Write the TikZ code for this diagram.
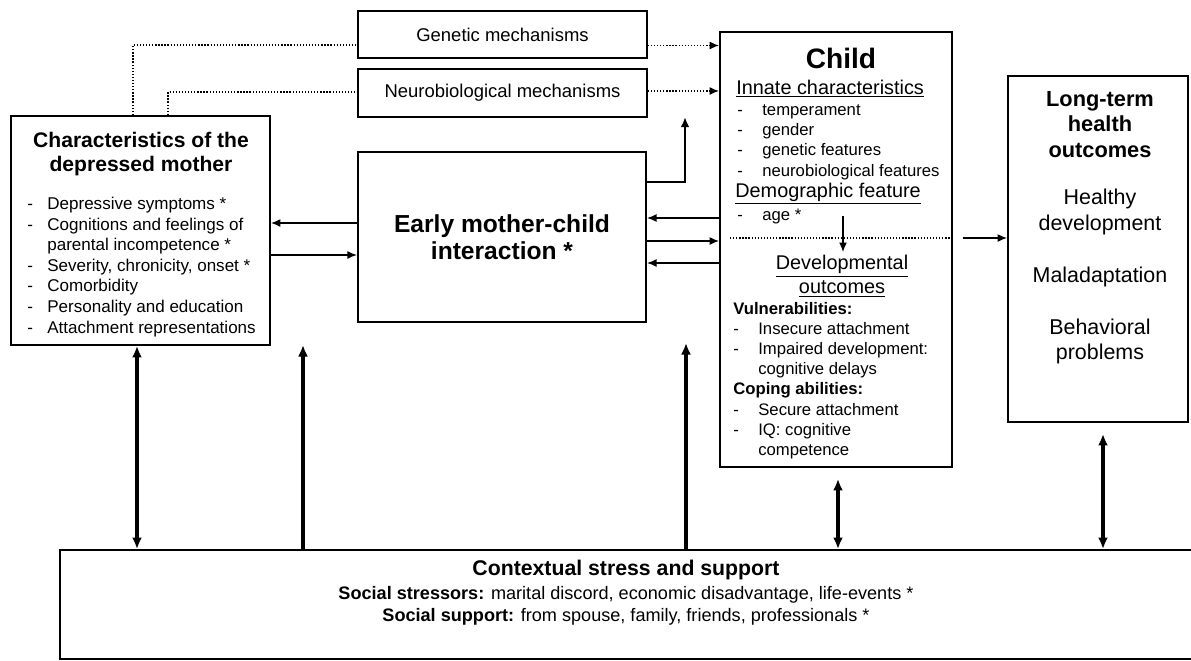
\documentclass[tikz,border=0pt]{standalone}
\usepackage{fontspec}
\setmainfont{Liberation Sans}
\usetikzlibrary{positioning}
\usetikzlibrary{arrows.meta}
\usetikzlibrary{calc}
\newcommand{\dashi}[1]{\makebox[#1][l]{-}}
\tikzset{
    boxn/.style = {rectangle, draw=black, line width=1.1pt, inner sep=0pt},
    mechn/.style = {boxn, line width=0.9pt, minimum width=5.78cm, minimum height=0.94cm, font=\fontsize{10.5}{12}\selectfont},
    txtn/.style = {inner sep=0pt, align=left},
    edgen/.style = {-{Latex[length=1.9mm,width=1.6mm]}, line width=0.75pt, black},
    edged/.style = {edgen, densely dotted}, % mechanisms
    edgedot/.style = {-, line width=0.75pt, densely dotted},
    edgeu/.style = {-{Latex[length=2mm,width=1.7mm]}, line width=1.2pt},
    edgeb/.style = {-{Latex[length=2.3mm,width=2mm]}, line width=2pt},
    edgebb/.style = {{Latex[length=2.3mm,width=2mm]}-{Latex[length=2.3mm,width=2mm]}, line width=2pt}
}

\begin{document}
\begin{tikzpicture}[x=0.02cm, y=-0.02cm]
  \useasboundingbox (0,0) rectangle (1191,660);

  \node[mechn] (gen) at (502.5,34.5) {Genetic mechanisms};
  \node[mechn, minimum height=0.96cm] (neuro) at (502.5,93) {Neurobiological mechanisms};
  \node[boxn, minimum width=5.18cm, minimum height=4.58cm] (mother) at (140.5,230.5) {};
  \node[boxn, line width=1.3pt, minimum width=5.76cm, minimum height=3.4cm, align=center,
        font=\bfseries\fontsize{14}{15.5}\selectfont] (early) at (502,237) {Early mother-child\\interaction *};
  \node[boxn, minimum width=4.64cm, minimum height=8.7cm] (child) at (836,249.5) {};
  \node[boxn, minimum width=3.6cm, minimum height=6.92cm] (long) at (1098,249) {};
  \node[boxn, minimum width=22.68cm, minimum height=2.18cm] (context) at (627,604.5) {};

  % mother
  \node[txtn, align=center, anchor=north, font=\bfseries\fontsize{12}{13.3}\selectfont] (mtitle) at (141,132)
    {Characteristics of the\\depressed mother};
  \node[txtn, anchor=north west, font=\fontsize{9.7}{11.7}\selectfont] (mlist) at (27,197)
    {\dashi{0.4cm}Depressive symptoms *\\
     \dashi{0.4cm}Cognitions and feelings of\\
     \hspace*{0.4cm}parental incompetence *\\
     \dashi{0.4cm}Severity, chronicity, onset *\\
     \dashi{0.4cm}Comorbidity\\
     \dashi{0.4cm}Personality and education\\
     \dashi{0.4cm}Attachment representations};

  % child
  \node[txtn, anchor=base, font=\bfseries\fontsize{16}{18}\selectfont] (ctitle) at (841,68) {Child};
  \node[txtn, anchor=base west, font=\fontsize{11.3}{13}\selectfont] (innate) at (736,94) {\underline{Innate characteristics}};
  \node[txtn, anchor=north west, font=\fontsize{9.5}{11.6}\selectfont] (ilist) at (737,104)
    {\dashi{0.5cm}temperament\\
     \dashi{0.5cm}gender\\
     \dashi{0.5cm}genetic features\\
     \dashi{0.5cm}neurobiological features};
  \node[txtn, anchor=base west, font=\fontsize{11.3}{13}\selectfont] (demo) at (735,197) {\underline{Demographic feature}};
  \node[txtn, anchor=base west, font=\fontsize{9.5}{11.6}\selectfont] (age) at (737,220) {\dashi{0.5cm}age *};
  \node[txtn, align=center, anchor=north, font=\fontsize{11.3}{13.7}\selectfont] (devel) at (842,255)
    {\underline{Developmental}\\\underline{outcomes}};
  \node[txtn, anchor=north west, font=\fontsize{9.5}{11.45}\selectfont] (vlist) at (733,302)
    {\textbf{Vulnerabilities:}\\
     \dashi{0.5cm}Insecure attachment\\
     \dashi{0.5cm}Impaired development:\\
     \hspace*{0.5cm}cognitive delays\\
     \textbf{Coping abilities:}\\
     \dashi{0.5cm}Secure attachment\\
     \dashi{0.5cm}IQ: cognitive\\
     \hspace*{0.5cm}competence};

  % long-term
  \node[txtn, align=center, anchor=north, font=\bfseries\fontsize{12.4}{14.5}\selectfont] (lhead) at (1100,91)
    {Long-term\\health\\outcomes};
  \node[txtn, align=center, anchor=north, font=\fontsize{12.2}{14.5}\selectfont] (lbody) at (1100,189)
    {Healthy\\development\\[15pt]Maladaptation\\[15pt]Behavioral\\problems};

  % context
  \node[txtn, anchor=base, font=\bfseries\fontsize{12.1}{14}\selectfont] (ctxt) at (626,575) {Contextual stress and support};
  \node[txtn, anchor=base, font=\fontsize{10.3}{12}\selectfont] (stress) at (626,599)
    {\textbf{Social stressors:} marital discord, economic disadvantage, life-events *};
  \node[txtn, anchor=base, font=\fontsize{10.3}{12}\selectfont] (support) at (626,621)
    {\textbf{Social support:} from spouse, family, friends, professionals *};

  % mechanisms
  \draw[edgedot] ($(mother.north)+(-7.5,0)$) |- ($(gen.west)+(0,10.5)$);
  \draw[edgedot] ($(mother.north)+(27.5,0)$) |- ($(neuro.west)+(0,-1)$);
  \draw[edged] ($(gen.east)+(0,11)$) coordinate (g1) -- (g1 -| child.west);
  \draw[edged] ($(neuro.east)+(0,-2)$) coordinate (n1) -- (n1 -| child.west);

  % interaction
  \draw[edgen] ($(early.west)+(0,-14)$) coordinate (e1) -- (e1 -| mother.east);
  \draw[edgen] ($(mother.east)+(0,24.5)$) coordinate (m2) -- (m2 -| early.west);
  \draw[edgen] ($(child.west)+(0,-31.5)$) coordinate (c1) -- (c1 -| early.east);
  \draw[edgen] ($(early.east)+(0,4)$) coordinate (e2) -- (e2 -| child.west);
  \draw[edgen] ($(child.west)+(0,13.5)$) coordinate (c3) -- (c3 -| early.east);
  \coordinate (upend) at (685,117);
  \draw[edgeu] ($(early.east)+(0,-55)$) -| (upend);

  % inside child
  \coordinate (agebot) at (843,216);
  \coordinate (devtop) at (843,252);
  \draw[edgen] (agebot) -- (devtop);
  \coordinate (sepL) at (730,238);
  \coordinate (sepR) at (sepL -| child.east);
  \draw[edgedot] (sepL) -- (sepR);
  \draw[edgen] ($(sepR)+(10,0)$) coordinate (s2) -- (s2 -| long.west);

  % context
  \draw[edgebb] ($(mother.south)+(-3.5,0)$) coordinate (v1) -- (v1 |- context.north);
  \coordinate (gapL) at (303,345);
  \draw[edgeb] (gapL |- context.north) -- (gapL);
  \coordinate (gapR) at (686,343);
  \draw[edgeb] (gapR |- context.north) -- (gapR);
  \draw[edgebb] ($(child.south)+(2,11)$) coordinate (v4) -- (v4 |- context.north);
  \draw[edgebb] ($(long.south)+(5,11)$) coordinate (v5) -- (v5 |- context.north);
\end{tikzpicture}
\end{document}
